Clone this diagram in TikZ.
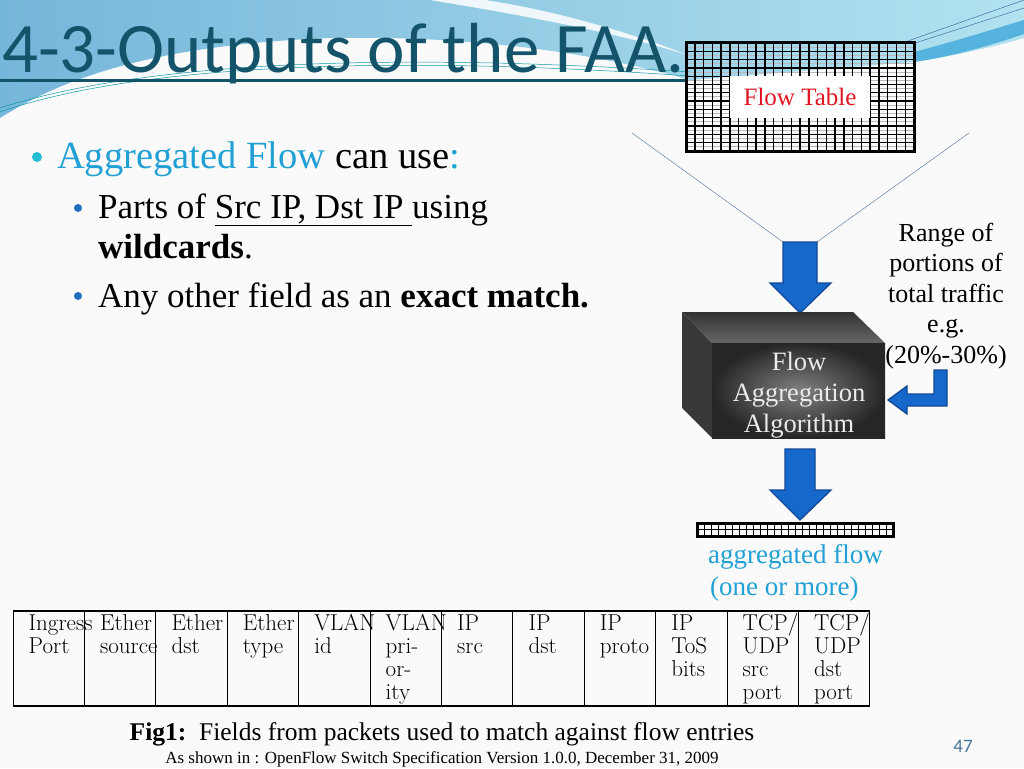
\documentclass[tikz,border=0pt]{standalone}
\usepackage{fontspec}
\setmainfont{Liberation Serif}
\newfontfamily\titlefont{Carlito}
\newfontfamily\cmfont{Latin Modern Roman}
\definecolor{titleteal}{RGB}{20,84,106}
\definecolor{skyblue}{RGB}{118,182,218}
\definecolor{palecyan}{RGB}{178,226,240}
\definecolor{bandblue}{RGB}{86,178,222}
\definecolor{flowcyan}{RGB}{32,160,212}
\definecolor{dotcyan}{RGB}{34,190,214}
\definecolor{dotblue}{RGB}{36,110,192}
\definecolor{arrowblue}{RGB}{22,104,202}
\definecolor{arrowedge}{RGB}{16,72,152}
\definecolor{linesteel}{RGB}{72,108,160}
\definecolor{boxlight}{RGB}{128,128,128}
\definecolor{boxdark}{RGB}{38,38,38}
\definecolor{ftred}{RGB}{222,22,34}
\definecolor{pagenum}{RGB}{70,118,158}

\begin{document}
\begin{tikzpicture}[x=1pt,y=-1pt,
    blockarrow/.style={draw=arrowedge,line width=1.3pt,fill=arrowblue},
    item/.style={anchor=base west,inner sep=0pt,font=\fontsize{35}{40}\selectfont},
    sidetext/.style={align=center,inner sep=0pt,font=\fontsize{26}{30.4}\selectfont},
    cell/.style={anchor=base west,inner sep=0pt,font=\cmfont\fontsize{23}{24}\selectfont}]
    \useasboundingbox (0,0) rectangle (1024,768);
    \fill[white!98!black] (0,0) rectangle (1024,768);
    % 背景
    \shade[left color=skyblue,right color=palecyan] (0,0) -- (1024,0) -- (1024,38)
        .. controls (1000,45) and (960,55) .. (914,62) -- (690,80)
        .. controls (620,60) and (500,35) .. (330,38)
        .. controls (150,45) and (60,80) .. (0,118) -- cycle;
    \fill[white,opacity=.85] (430,0) .. controls (540,18) and (630,36) .. (690,56)
        .. controls (620,28) and (540,8) .. (485,0) -- cycle;
    \fill[bandblue] (914,52) .. controls (960,40) and (1000,27) .. (1024,20) -- (1024,34)
        .. controls (995,44) and (955,56) .. (914,62) -- cycle;
    \draw[titleteal!60!cyan,line width=.5pt] (0,112) .. controls (120,70) and (350,52) .. (690,76);
    \draw[titleteal!60!cyan,line width=.5pt] (0,108) .. controls (130,66) and (360,50) .. (690,72);
    \draw[linesteel,line width=.5pt] (905,42) -- (1024,0) (912,44) -- (1024,8);

    % 标题
    \node[anchor=base west,inner sep=0pt,text=titleteal,font=\titlefont\fontsize{71}{71}\selectfont] (title) at (2,72) {4-3-Outputs of the FAA.};
    \draw[titleteal,line width=3pt] (0,80) -- (685,80);

    % 左侧要点
    \fill[dotcyan] (37,157) circle (5);
    \node[item,font=\fontsize{38.5}{40}\selectfont] (b1) at (57,168) {\textcolor{flowcyan}{Aggregated Flow} can use\textcolor{flowcyan}{:}};
    \fill[dotblue] (78,208) circle (4);
    \node[item] (b2) at (98,218) {Parts of \underline{Src IP, Dst IP\ }using};
    \node[item] (b2b) at (98,258) {\textbf{wildcards}.};
    \fill[dotblue] (78,296) circle (4);
    \node[item] (b3) at (98,307) {Any other field as an \textbf{exact match.}};

    % 流表
    \begin{scope}
        \clip (686,43) rectangle (914,151);
        \foreach \y in {0,...,12} \draw[gray!55,line width=.7pt] (686,{47+\y*8.3}) -- (914,{47+\y*8.3});
        \foreach \y in {1,...,12} \draw[line width=1.3pt] (686,{43+\y*8.3}) -- (914,{43+\y*8.3});
        \foreach \x in {1,...,25} \draw[line width=1.5pt] ({686+\x*8.77},43) -- ({686+\x*8.77},151);
    \end{scope}
    \node[draw,line width=3pt,minimum width=228pt,minimum height=108pt,inner sep=0pt] (ft) at (800,97) {};
    \node[fill=white,minimum width=140pt,minimum height=42pt,inner sep=0pt,text=ftred,font=\fontsize{25}{25}\selectfont] (ftl) at (ft.center) {Flow Table};

    \coordinate (la) at (632,133);
    \coordinate (lb) at (783,242);
    \coordinate (ra) at (969,133);
    \coordinate (rb) at (817,242);
    \draw[linesteel] (la) -- (lb);
    \draw[linesteel] (ra) -- (rb);

    % 箭头
    \draw[blockarrow] (783,242) -- (817,242) -- (817,283) -- (831,283) -- (800,313) -- (770,283) -- (783,283) -- cycle;
    \draw[blockarrow] (785,449) -- (815,449) -- (815,490) -- (831,490) -- (800,520) -- (770,490) -- (785,490) -- cycle;
    \draw[blockarrow] (934,370) -- (947,370) -- (947,406) -- (907,406) -- (907,414) -- (888,400) -- (907,386) -- (907,394) -- (934,394) -- cycle;

    % 立方体
    \fill[black!78] (682,312) -- (712,343) -- (712,438) -- (682,408) -- cycle;
    \shade[top color=black!80,bottom color=black!60] (682,312) -- (853,312) -- (885,343) -- (712,343) -- cycle;
    \shade[inner color=boxlight,outer color=boxdark] (712,343) rectangle (885,438);
    \node[align=center,inner sep=0pt,text=white!92!black,font=\fontsize{26.5}{31}\selectfont] (faa) at (799,395) {Flow\\Aggregation\\Algorithm};

    \node[sidetext] (range) at (946,296) {Range of\\portions of\\total traffic\\e.g.\\(20\%-30\%)};

    % 聚合流
    \begin{scope}
        \clip (697,523) rectangle (893,536);
        \draw[line width=.8pt] (697,529.5) -- (893,529.5);
        \foreach \x in {1,...,27} \draw[line width=.8pt] ({697+\x*7.0},523) -- ({697+\x*7.0},536);
    \end{scope}
    \node[draw,line width=3pt,minimum width=196pt,minimum height=13pt,inner sep=0pt] (aggbar) at (795,529.5) {};
    \node[anchor=base west,inner sep=0pt,text=flowcyan,font=\fontsize{27}{30}\selectfont] (agg1) at (708,563) {aggregated flow};
    \node[anchor=base west,inner sep=0pt,text=flowcyan,font=\fontsize{27}{30}\selectfont] (agg2) at (710,595) {(one or more)};

    % 字段表
    \draw[line width=1.2pt] (13,611) -- (870,611);
    \draw[line width=2pt] (13,706) -- (870,706);
    \foreach \i in {0,...,12} \draw[line width=1pt] ({13+\i*71.4},611) -- ({13+\i*71.4},706);
    \foreach \t [count=\i from 0] in {{Ingress,Port},{Ether,source},{Ether,dst},{Ether,type},{VLAN,id},{VLAN,pri-,or-,ity},{IP,src},{IP,dst},{IP,proto},{IP,ToS,bits},{TCP/,UDP,src,port},{TCP/,UDP,dst,port}}
        \foreach \w [count=\j from 0] in \t
            \node[cell] (c\i-\j) at ({28.5+\i*71.4},{630+\j*23.3}) {\w};

    \node[anchor=base,inner sep=0pt,font=\fontsize{25.5}{25}\selectfont] (fig) at (442,740) {\textbf{Fig1:}\ \ Fields from packets used to match against flow entries};
    \node[anchor=base,inner sep=0pt,font=\fontsize{17}{17}\selectfont] (src) at (442,763) {As shown in : OpenFlow Switch Specification Version 1.0.0, December 31, 2009};
    \node[inner sep=0pt,text=pagenum,font=\titlefont\fontsize{19}{19}\selectfont] (pg) at (963,746) {47};
\end{tikzpicture}
\end{document}
